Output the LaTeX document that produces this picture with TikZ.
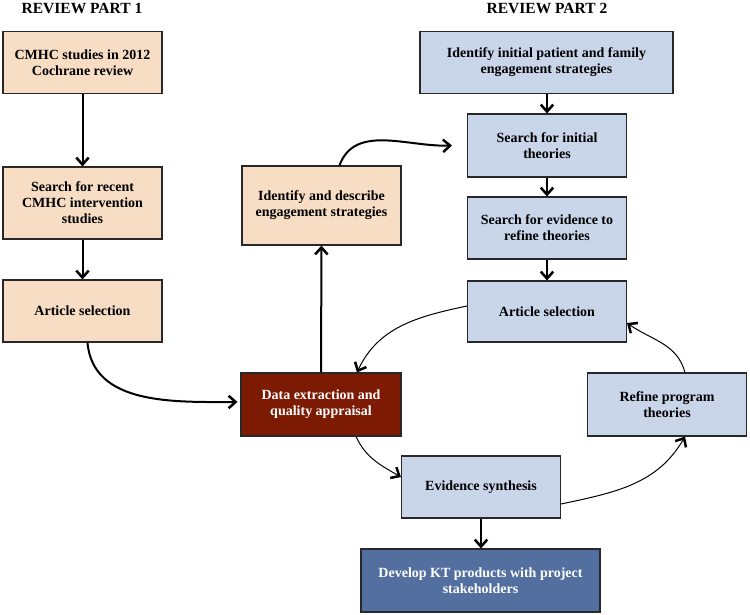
\documentclass[tikz,border=0pt]{standalone}
\usepackage{xcolor}
\usepackage{fontspec}
\setmainfont{Liberation Serif}
\usepackage{tikz}
\usetikzlibrary{arrows.meta}
\definecolor{peachfill}{RGB}{246, 221, 196}
\definecolor{bluefill}{RGB}{201, 213, 233}
\definecolor{darkred}{RGB}{124, 26, 4}
\definecolor{stakeblue}{RGB}{83, 111, 160}
\definecolor{boxline}{RGB}{40, 40, 40}

\begin{document}
\begin{tikzpicture}[x=1pt, y=-1pt,
    box/.style={draw=boxline, line width=1.1pt, rectangle, inner sep=0pt, align=center,
        font=\bfseries\fontsize{14}{16}\selectfont, minimum width=159pt, minimum height=62pt},
    partone/.style={box, fill=peachfill},
    parttwo/.style={box, fill=bluefill},
    heading/.style={font=\bfseries\fontsize{15.5}{17}\selectfont, anchor=base},
    bigarrow/.style={line width=2pt, -{Straight Barb[length=7pt, width=12.5pt, line width=2.5pt]}},
    thinarrow/.style={line width=1pt, -{Straight Barb[length=7pt, width=12.5pt, line width=2.5pt]}}]
    \useasboundingbox (0,0) rectangle (750,615);

    % titres
    \node[heading] (headA) at (82, 14) {REVIEW PART 1};
    \node[heading] (headB) at (547, 14) {REVIEW PART 2};

    % partie 1
    \node[partone] (cochrane) at (82.5, 62.5) {CMHC studies in 2012\\Cochrane review};
    \node[partone, minimum height=72pt] (recent) at (82.5, 203) {Search for recent\\CMHC intervention\\studies};
    \node[partone] (selectA) at (82.5, 311) {Article selection};
    \node[partone, minimum height=79pt] (identify) at (321.5, 205.5) {Identify and describe\\engagement strategies};
    \node[box, fill=darkred, text=white, minimum width=160pt, minimum height=63pt] (extract) at (321, 404.5) {Data extraction and\\quality appraisal};

    % partie 2
    \node[parttwo, minimum width=253pt] (initial) at (546.5, 62.5) {Identify initial patient and family\\engagement strategies};
    \node[parttwo, minimum height=63pt] (theories) at (547, 145.5) {Search for initial\\theories};
    \node[parttwo] (evidence) at (547, 228) {Search for evidence to\\refine theories};
    \node[parttwo, minimum height=61pt] (selectB) at (547, 311.5) {Article selection};
    \node[parttwo, minimum height=63pt] (refine) at (667, 404.5) {Refine program\\theories};
    \node[parttwo] (synth) at (481, 487) {Evidence synthesis};
    \node[box, fill=stakeblue, text=white, minimum width=239pt, minimum height=63pt] (develop) at (480.5, 580.5) {Develop KT products with project\\stakeholders};

    % fleches droites
    \draw[bigarrow] (cochrane) -- (recent);
    \draw[bigarrow] (recent) -- (selectA);
    \draw[bigarrow] (initial.south -| theories) -- (theories);
    \draw[bigarrow] (theories) -- (evidence);
    \draw[bigarrow] (evidence) -- (selectB);
    \draw[bigarrow] (extract) -- (identify);
    \draw[bigarrow] (synth) -- (develop.north -| synth);

    % fleches courbes
    \draw[bigarrow] ([xshift=5pt]selectA.south) to[out=-85, in=180] ([xshift=-3pt, yshift=2.5pt]extract.west);
    \draw[bigarrow] ([xshift=18pt]identify.north) to[out=70, in=182] ([xshift=-15pt]theories.west);
    \draw[thinarrow] ([yshift=5.5pt]selectB.west) to[out=192, in=65] ([xshift=36pt]extract.north);
    \draw[thinarrow] ([xshift=35pt]extract.south) to[out=-65, in=150] ([yshift=10pt]synth.west);
    \draw[thinarrow] ([yshift=-17pt]synth.east) to[out=12, in=-120] ([xshift=18pt]refine.south);
    \draw[thinarrow] ([xshift=18pt]refine.north) to[out=105, in=-35] ([yshift=-11.5pt]selectB.east);

\end{tikzpicture}
\end{document}
